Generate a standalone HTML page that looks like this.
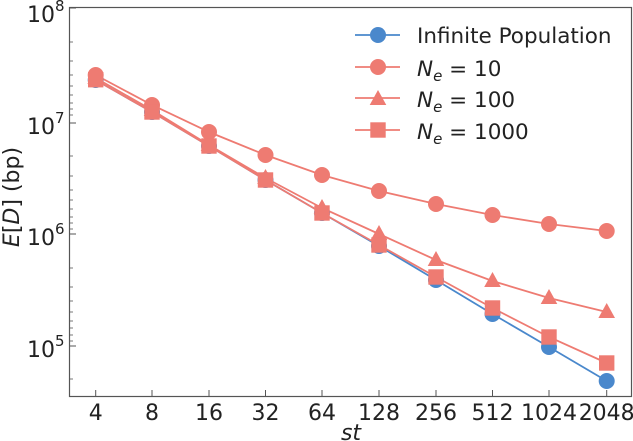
<!DOCTYPE html><html><head><style>body{margin:0;background:#fff}svg{display:block;font-family:"DejaVu Sans","Liberation Sans",sans-serif}</style></head><body>
<svg width="633" height="441" viewBox="0 0 633 441">
<rect x="69.5" y="7.5" width="562" height="389" fill="none" stroke="#555" stroke-width="1.2"/>
<g stroke="#555" stroke-width="1">
<line x1="69.5" y1="8" x2="76" y2="8"/><line x1="69.5" y1="123" x2="76" y2="123"/><line x1="69.5" y1="234" x2="76" y2="234"/><line x1="69.5" y1="346" x2="76" y2="346"/>
<g stroke-width="0.8">
<line x1="69.5" y1="42" x2="73" y2="42"/><line x1="69.5" y1="61" x2="73" y2="61"/><line x1="69.5" y1="75" x2="73" y2="75"/><line x1="69.5" y1="86" x2="73" y2="86"/><line x1="69.5" y1="95" x2="73" y2="95"/><line x1="69.5" y1="103" x2="73" y2="103"/><line x1="69.5" y1="109" x2="73" y2="109"/><line x1="69.5" y1="115" x2="73" y2="115"/>
<line x1="69.5" y1="156" x2="73" y2="156"/><line x1="69.5" y1="176" x2="73" y2="176"/><line x1="69.5" y1="190" x2="73" y2="190"/><line x1="69.5" y1="200" x2="73" y2="200"/><line x1="69.5" y1="209" x2="73" y2="209"/><line x1="69.5" y1="217" x2="73" y2="217"/><line x1="69.5" y1="223" x2="73" y2="223"/><line x1="69.5" y1="229" x2="73" y2="229"/>
<line x1="69.5" y1="268" x2="73" y2="268"/><line x1="69.5" y1="287" x2="73" y2="287"/><line x1="69.5" y1="301" x2="73" y2="301"/><line x1="69.5" y1="312" x2="73" y2="312"/><line x1="69.5" y1="321" x2="73" y2="321"/><line x1="69.5" y1="328" x2="73" y2="328"/><line x1="69.5" y1="335" x2="73" y2="335"/><line x1="69.5" y1="341" x2="73" y2="341"/>
<line x1="69.5" y1="379" x2="73" y2="379"/>
</g>
<line x1="95.7" y1="396" x2="95.7" y2="390"/><line x1="152" y1="396" x2="152" y2="390"/><line x1="209" y1="396" x2="209" y2="390"/><line x1="265.5" y1="396" x2="265.5" y2="390"/><line x1="322" y1="396" x2="322" y2="390"/><line x1="379" y1="396" x2="379" y2="390"/><line x1="436" y1="396" x2="436" y2="390"/><line x1="492.5" y1="396" x2="492.5" y2="390"/><line x1="549" y1="396" x2="549" y2="390"/><line x1="606.7" y1="396" x2="606.7" y2="390"/>
</g>
<g font-size="22" fill="#222">
<text x="27" y="22">10<tspan font-size="15" dy="-11">8</tspan></text>
<text x="27" y="134">10<tspan font-size="15" dy="-11">7</tspan></text>
<text x="27" y="245">10<tspan font-size="15" dy="-11">6</tspan></text>
<text x="27" y="357">10<tspan font-size="15" dy="-11">5</tspan></text>
<g text-anchor="middle">
<text x="95.7" y="420">4</text><text x="152" y="420">8</text><text x="209" y="420">16</text><text x="265.5" y="420">32</text><text x="322" y="420">64</text><text x="379" y="420">128</text><text x="436" y="420">256</text><text x="492.5" y="420">512</text><text x="549" y="420">1024</text><text x="606.7" y="420">2048</text>
<text x="351" y="440" font-style="italic">st</text>
<text transform="translate(19,197) rotate(-90)"><tspan font-style="italic">E</tspan>[<tspan font-style="italic">D</tspan>] (bp)</text>
</g>
</g>
<g fill="none" stroke-width="1.8">
<polyline stroke="#4a88cc" points="95.7,80 152,112 209,146 265.5,180 322,213 379,246 436,280 492.5,314 549,347 606.7,381"/>
<polyline stroke="#ee7b72" points="95.7,75 152,105 209,132 265.5,155 322,175 379,191 436,204 492.5,215 549,224 606.7,231"/>
<polyline stroke="#ee7b72" points="95.7,78 152,110 209,145 265.5,178 322,208 379,234 436,260 492.5,281 549,298 606.7,312"/>
<polyline stroke="#ee7b72" points="95.7,80 152,112 209,146 265.5,180 322,213 379,245 436,277 492.5,308 549,337 606.7,363"/>
</g>
<g fill="#4a88cc">
<circle cx="95.7" cy="80" r="8"/><circle cx="152" cy="112" r="8"/><circle cx="209" cy="146" r="8"/><circle cx="265.5" cy="180" r="8"/><circle cx="322" cy="213" r="8"/><circle cx="379" cy="246" r="8"/><circle cx="436" cy="280" r="8"/><circle cx="492.5" cy="314" r="8"/><circle cx="549" cy="347" r="8"/><circle cx="606.7" cy="381" r="8"/>
</g>
<g fill="#ee7b72">
<circle cx="95.7" cy="75" r="8"/><circle cx="152" cy="105" r="8"/><circle cx="209" cy="132" r="8"/><circle cx="265.5" cy="155" r="8"/><circle cx="322" cy="175" r="8"/><circle cx="379" cy="191" r="8"/><circle cx="436" cy="204" r="8"/><circle cx="492.5" cy="215" r="8"/><circle cx="549" cy="224" r="8"/><circle cx="606.7" cy="231" r="8"/>
<polygon points="95.7,69 104,84 87.4,84"/><polygon points="152,101 160.3,116 143.7,116"/><polygon points="209,136 217.3,151 200.7,151"/><polygon points="265.5,169 273.8,184 257.2,184"/><polygon points="322,199 330.3,214 313.7,214"/><polygon points="379,225 387.3,240 370.7,240"/><polygon points="436,251 444.3,266 427.7,266"/><polygon points="492.5,272 500.8,287 484.2,287"/><polygon points="549,289 557.3,304 540.7,304"/><polygon points="606.7,303 615,318 598.4,318"/>
<rect x="88" y="72" width="15.4" height="15.4"/><rect x="144.3" y="104.3" width="15.4" height="15.4"/><rect x="201.3" y="138.3" width="15.4" height="15.4"/><rect x="257.8" y="172.3" width="15.4" height="15.4"/><rect x="314.3" y="205.3" width="15.4" height="15.4"/><rect x="371.3" y="237.3" width="15.4" height="15.4"/><rect x="428.3" y="269.3" width="15.4" height="15.4"/><rect x="484.8" y="300.3" width="15.4" height="15.4"/><rect x="541.3" y="329.3" width="15.4" height="15.4"/><rect x="599" y="355.3" width="15.4" height="15.4"/>
</g>
<g stroke-width="1.8">
<line x1="355" y1="35" x2="400" y2="35" stroke="#4a88cc"/><circle cx="378" cy="35" r="8" fill="#4a88cc"/>
<line x1="355" y1="67" x2="400" y2="67" stroke="#ee7b72"/><circle cx="378" cy="67" r="8" fill="#ee7b72"/>
<line x1="355" y1="98" x2="400" y2="98" stroke="#ee7b72"/><polygon points="378,90 386.3,105 369.7,105" fill="#ee7b72"/>
<line x1="355" y1="130" x2="400" y2="130" stroke="#ee7b72"/><rect x="370.3" y="122.3" width="15.4" height="15.4" fill="#ee7b72"/>
</g>
<g font-size="21.5" fill="#222">
<text x="417" y="43">Infinite Population</text>
<text x="417" y="76"><tspan font-style="italic">N</tspan><tspan font-style="italic" font-size="15" dy="5">e</tspan><tspan dy="-5"> = 10</tspan></text>
<text x="417" y="107"><tspan font-style="italic">N</tspan><tspan font-style="italic" font-size="15" dy="5">e</tspan><tspan dy="-5"> = 100</tspan></text>
<text x="417" y="139"><tspan font-style="italic">N</tspan><tspan font-style="italic" font-size="15" dy="5">e</tspan><tspan dy="-5"> = 1000</tspan></text>
</g>
</svg>
</body></html>
